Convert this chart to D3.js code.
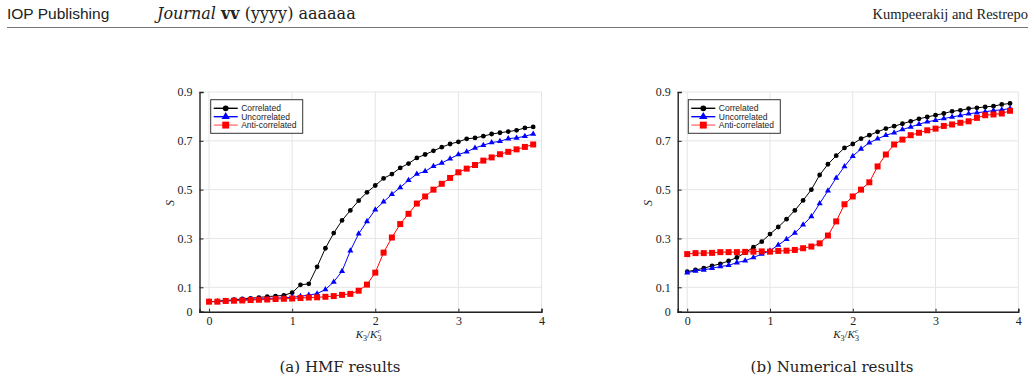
<!DOCTYPE html>
<html lang="en">
<head>
  <meta charset="UTF-8">
  <title>HMF vs numerical results</title>
  <script src="https://d3js.org/d3.v7.min.js"></script>
  <style>
    body { margin: 0; background: #fff; }
    svg { display: block; }
    .serif { font-family: "Liberation Serif", "DejaVu Serif", serif; }
    .wide { font-family: "DejaVu Serif", "Liberation Serif", serif; }
    .sans { font-family: "Liberation Sans", "DejaVu Sans", sans-serif; }
  </style>
</head>
<body>
<svg id="chart" width="1034" height="383"></svg>
<script>
  // K3 / K3^c sample points
  const kRatio = [0, 0.1, 0.2, 0.3, 0.4, 0.5, 0.6, 0.7, 0.8, 0.9,
                  1.0, 1.1, 1.2, 1.3, 1.4, 1.5, 1.6, 1.7, 1.8, 1.9,
                  2.0, 2.1, 2.2, 2.3, 2.4, 2.5, 2.6, 2.7, 2.8, 2.9,
                  3.0, 3.1, 3.2, 3.3, 3.4, 3.5, 3.6, 3.7, 3.8, 3.9];

  // (a) HMF results
  const hmfCorrelated = [0.041, 0.043, 0.046, 0.049, 0.052, 0.055, 0.058, 0.062, 0.064, 0.067,
                         0.078, 0.110, 0.114, 0.184, 0.260, 0.322, 0.374, 0.415, 0.455, 0.489,
                         0.517, 0.546, 0.564, 0.589, 0.607, 0.630, 0.644, 0.659, 0.674, 0.687,
                         0.696, 0.708, 0.712, 0.719, 0.728, 0.733, 0.738, 0.743, 0.753, 0.757];
  const hmfUncorrelated = [0.041, 0.042, 0.044, 0.046, 0.048, 0.050, 0.052, 0.054, 0.056, 0.057,
                           0.059, 0.063, 0.068, 0.074, 0.091, 0.122, 0.166, 0.250, 0.319, 0.370,
                           0.418, 0.450, 0.481, 0.509, 0.538, 0.564, 0.575, 0.596, 0.609, 0.627,
                           0.644, 0.655, 0.671, 0.682, 0.693, 0.698, 0.709, 0.712, 0.719, 0.728];
  const hmfAnti = [0.041, 0.041, 0.044, 0.045, 0.046, 0.048, 0.049, 0.050, 0.052, 0.053,
                   0.054, 0.056, 0.058, 0.059, 0.061, 0.064, 0.069, 0.073, 0.086, 0.111,
                   0.160, 0.242, 0.304, 0.359, 0.401, 0.443, 0.472, 0.500, 0.524, 0.548,
                   0.571, 0.586, 0.601, 0.619, 0.632, 0.645, 0.655, 0.665, 0.675, 0.685];

  // (b) Numerical results
  const numCorrelated = [0.164, 0.171, 0.178, 0.188, 0.196, 0.208, 0.222, 0.242, 0.264, 0.287,
                         0.318, 0.347, 0.379, 0.415, 0.456, 0.500, 0.560, 0.604, 0.639, 0.671,
                         0.687, 0.709, 0.723, 0.737, 0.750, 0.760, 0.770, 0.780, 0.790, 0.798,
                         0.805, 0.812, 0.821, 0.825, 0.832, 0.835, 0.839, 0.842, 0.849, 0.853];
  const numUncorrelated = [0.160, 0.167, 0.171, 0.178, 0.185, 0.190, 0.201, 0.209, 0.222, 0.236,
                           0.250, 0.273, 0.297, 0.322, 0.356, 0.390, 0.443, 0.495, 0.548, 0.595,
                           0.637, 0.667, 0.692, 0.708, 0.723, 0.733, 0.746, 0.757, 0.768, 0.778,
                           0.784, 0.791, 0.798, 0.804, 0.811, 0.815, 0.819, 0.824, 0.827, 0.832];
  const numAnti = [0.236, 0.240, 0.240, 0.241, 0.244, 0.244, 0.244, 0.245, 0.246, 0.247,
                   0.246, 0.249, 0.250, 0.253, 0.260, 0.267, 0.280, 0.312, 0.370, 0.440,
                   0.472, 0.500, 0.530, 0.595, 0.644, 0.685, 0.705, 0.723, 0.733, 0.743,
                   0.750, 0.761, 0.767, 0.774, 0.780, 0.794, 0.805, 0.808, 0.812, 0.823];

  const seriesNames = ["Correlated", "Uncorrelated", "Anti-correlated"];
  const xTicks = [0, 1, 2, 3, 4];
  const yTicks = [0, 0.1, 0.3, 0.5, 0.7, 0.9];
  const captions = ["(a) HMF results", "(b) Numerical results"];

  const svg = d3.select("#chart");

  // page header
  svg.append("text").attr("class", "sans")
    .attr("x", 7).attr("y", 19).attr("font-size", 15.5).attr("fill", "#222")
    .text("IOP Publishing");
  const jt = svg.append("text").attr("class", "wide")
    .attr("x", 157).attr("y", 19).attr("font-size", 16).attr("fill", "#222");
  jt.append("tspan").attr("font-style", "italic").text("Journal ");
  jt.append("tspan").attr("font-weight", "bold").text("vv");
  jt.append("tspan").text(" (yyyy) aaaaaa");
  svg.append("text").attr("class", "serif")
    .attr("x", 1028).attr("y", 19).attr("text-anchor", "end")
    .attr("font-size", 14.5).attr("fill", "#222")
    .text("Kumpeerakij and Restrepo");
  svg.append("line")
    .attr("x1", 7).attr("x2", 1028).attr("y1", 27.5).attr("y2", 27.5)
    .attr("stroke", "#777").attr("stroke-width", 1);

  const styles = [
    { color: "#000", marker: d3.symbolCircle, size: 18, legendSize: 26, legendLine: "#000" },
    { color: "#0000ff", marker: d3.symbolTriangle, size: 16, legendSize: 30, legendLine: "#0000ff" },
    { color: "#ff0000", marker: d3.symbolSquare, size: 36, legendSize: 48, legendLine: "#ff7a7a" }
  ];

  function drawPanel(opts) {
    const x = d3.scaleLinear().domain([-0.115, 4.0]).range(opts.xRange);
    const y = d3.scaleLinear().domain([0, 0.9]).range([311.7, 92]);
    const g = svg.append("g");

    // grid
    g.append("g").selectAll("line").data(xTicks).join("line")
      .attr("x1", d => x(d)).attr("x2", d => x(d))
      .attr("y1", y(0)).attr("y2", y(0.9))
      .attr("stroke", "#e5e5e5").attr("stroke-width", 1);
    g.append("g").selectAll("line").data(yTicks).join("line")
      .attr("x1", opts.xRange[0]).attr("x2", opts.xRange[1])
      .attr("y1", d => y(d)).attr("y2", d => y(d))
      .attr("stroke", "#e5e5e5").attr("stroke-width", 1);

    // axes
    const xAxis = g.append("g")
      .attr("transform", `translate(0,${y(0)})`)
      .call(d3.axisBottom(x).tickValues(xTicks).tickSize(-3).tickPadding(7).tickFormat(d3.format("d")));
    const yAxis = g.append("g")
      .attr("transform", `translate(${opts.xRange[0]},0)`)
      .call(d3.axisLeft(y).tickValues(yTicks).tickSize(-4).tickPadding(7)
        .tickFormat(d => d === 0 ? "0" : d3.format(".1f")(d)));
    [xAxis, yAxis].forEach(a => {
      a.select(".domain").attr("stroke", "#222").attr("stroke-width", 1.4);
      a.selectAll(".tick line").attr("stroke", "#222");
      a.selectAll(".tick text").attr("class", "serif").attr("font-size", 12).attr("fill", "#222");
    });
    xAxis.selectAll(".tick text").attr("dy", "0.55em");

    // axis labels
    const xl = g.append("text").attr("class", "serif")
      .attr("x", (opts.xRange[0] + opts.xRange[1]) / 2 - 2).attr("y", 338)
      .attr("text-anchor", "middle").attr("font-size", 11).attr("fill", "#222");
    xl.append("tspan").attr("font-style", "italic").text("K");
    xl.append("tspan").attr("font-size", 8).attr("dy", 2.5).text("3");
    xl.append("tspan").attr("dy", -2.5).text("/");
    xl.append("tspan").attr("font-style", "italic").text("K");
    xl.append("tspan").attr("font-size", 8).attr("dy", 2.5).text("3");
    xl.append("tspan").attr("font-size", 7).attr("font-style", "italic").attr("dx", -4).attr("dy", -8).text("c");

    g.append("text").attr("class", "serif")
      .attr("transform", `translate(${opts.xRange[0] - 26},203) rotate(-90)`)
      .attr("text-anchor", "middle").attr("font-size", 12).attr("font-style", "italic")
      .attr("fill", "#222").text("S");

    // series
    const line = d3.line().x(d => x(d[0])).y(d => y(d[1]));
    opts.series.forEach((vals, i) => {
      const st = styles[i];
      const pts = kRatio.map((k, j) => [k, vals[j]]);
      g.append("path").datum(pts)
        .attr("d", line).attr("fill", "none")
        .attr("stroke", st.color).attr("stroke-width", 1);
      g.append("g").selectAll("path").data(pts).join("path")
        .attr("transform", d => `translate(${x(d[0])},${y(d[1])})`)
        .attr("d", d3.symbol().type(st.marker).size(st.size))
        .attr("fill", st.color);
    });

    // legend
    const lg = g.append("g").attr("transform", `translate(${opts.legendX},99.7)`);
    lg.append("rect").attr("width", 92).attr("height", 33.6)
      .attr("fill", "#fff").attr("stroke", "#333").attr("stroke-width", 1);
    seriesNames.forEach((name, i) => {
      const st = styles[i];
      const ry = 8.6 + i * 8.4;
      lg.append("line").attr("x1", 3).attr("x2", 27).attr("y1", ry).attr("y2", ry)
        .attr("stroke", st.legendLine).attr("stroke-width", 1.4);
      lg.append("path").attr("transform", `translate(15,${ry})`)
        .attr("d", d3.symbol().type(st.marker).size(st.legendSize))
        .attr("fill", st.color);
      lg.append("text").attr("class", "sans")
        .attr("x", 30.5).attr("y", ry + 3).attr("font-size", 8.5).attr("fill", "#222")
        .text(name);
    });

    svg.append("text").attr("class", "wide")
      .attr("x", opts.captionX).attr("y", 372).attr("text-anchor", "middle")
      .attr("font-size", 15).attr("fill", "#222")
      .text(opts.caption);
  }

  drawPanel({ xRange: [199.5, 541.5], legendX: 210.7, captionX: 340,
              series: [hmfCorrelated, hmfUncorrelated, hmfAnti], caption: captions[0] });
  drawPanel({ xRange: [677.7, 1018.3], legendX: 688.3, captionX: 832,
              series: [numCorrelated, numUncorrelated, numAnti], caption: captions[1] });
</script>
</body>
</html>
